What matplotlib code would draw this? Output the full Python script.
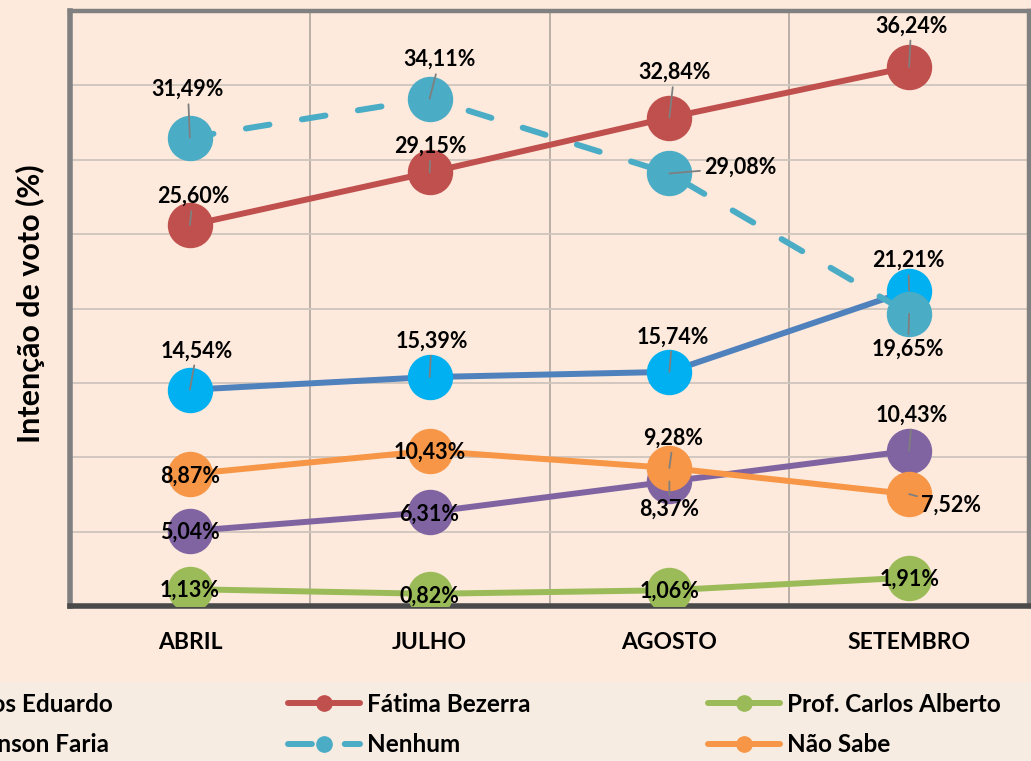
import matplotlib
matplotlib.use("Agg")
import matplotlib.pyplot as plt
from matplotlib.lines import Line2D

# ---------------- data ----------------
categories = ["ABRIL", "JULHO", "AGOSTO", "SETEMBRO"]
series_names = ["Carlos Eduardo", "Fátima Bezerra", "Prof. Carlos Alberto",
                "Robinson Faria", "Nenhum", "Não Sabe"]
carlos_eduardo = [14.54, 15.39, 15.74, 21.21]
fatima_bezerra = [25.60, 29.15, 32.84, 36.24]
prof_carlos_alberto = [1.13, 0.82, 1.06, 1.91]
robinson_faria = [5.04, 6.31, 8.37, 10.43]
nenhum = [31.49, 34.11, 29.08, 19.65]
nao_sabe = [8.87, 10.43, 9.28, 7.52]
series_values = [carlos_eduardo, fatima_bezerra, prof_carlos_alberto,
                 robinson_faria, nenhum, nao_sabe]

# ---------------- styles ----------------
line_colors = ["#4F81BD", "#C0504D", "#9BBB59", "#8064A2", "#4BACC6", "#F79646"]
marker_colors = ["#00B0F0", "#C0504D", "#9BBB59", "#8064A2", "#4BACC6", "#F79646"]
dashed = [False, False, False, False, True, False]
# label offsets (pixels) relative to each point
label_offsets = [
    [(7, 39), (2, 36), (3, 35), (-1, 30)],
    [(3, 29), (1, 26), (5, 45), (2, 41)],
    [(0, -1), (0, -2), (0, -1), (0, -2)],
    [(0, -1), (0, -2), (0, -28), (3, 36)],
    [(-2, 48), (10, 39), (71, 6), (-1, -35)],
    [(0, -2), (0, -1), (4, 30), (42, -11)],
]

FONT = "Lato"
BG = "#FDEADC"
LEG_BG = "#F7ECE2"
W, H = 1031, 761
DASH = (0, (4, 5.5))

fig = plt.figure(figsize=(W / 100, H / 100), dpi=100, facecolor=BG)
# legend band
fig.patches.append(plt.Rectangle((0, 0), 1, 1 - 682 / H, transform=fig.transFigure,
                                 facecolor=LEG_BG, edgecolor="none", zorder=0))

ax = fig.add_axes([70 / W, 1 - 606 / H, (1029 - 70) / W, (606 - 11) / H])
ax.set_facecolor(BG)
ax.set_xlim(-0.5, 3.5)
ax.set_ylim(0, 40)
ax.set_yticks(range(0, 41, 5))
ax.set_yticklabels([])
ax.set_xticks(range(len(categories)))
ax.set_xticklabels(categories, fontfamily=FONT, fontweight="bold", fontsize=16.5)
ax.set_xticks([0.5, 1.5, 2.5], minor=True)
ax.tick_params(axis="both", which="both", length=0)
ax.tick_params(axis="x", pad=19)
ax.grid(axis="y", which="major", color="#CFC5BD", lw=1.3, zorder=0)
ax.grid(axis="x", which="minor", color="#B5ABA3", lw=1.3, zorder=0)

for side in ["top", "right"]:
    ax.spines[side].set_color("#808080")
    ax.spines[side].set_linewidth(3.2)
ax.spines["left"].set_color("#808080")
ax.spines["left"].set_linewidth(4)
ax.spines["bottom"].set_color("#4A4A4A")
ax.spines["bottom"].set_linewidth(4)

x = list(range(len(categories)))
handles = []
for i, (name, vals) in enumerate(zip(series_names, series_values)):
    kw = dict(color=line_colors[i], lw=4.3, marker="o", markersize=31.7,
              markerfacecolor=marker_colors[i], markeredgecolor=marker_colors[i],
              solid_capstyle="round", dash_capstyle="round", zorder=3 + i)
    if dashed[i]:
        kw["linestyle"] = DASH
    ln, = ax.plot(x, vals, label=name, **kw)
    handles.append(ln)

# data labels
for i, vals in enumerate(series_values):
    for j, v in enumerate(vals):
        dx, dy = label_offsets[i][j]
        txt = f"{v:.2f}%".replace(".", ",")
        kw = dict(xy=(j, v), xytext=(dx, dy), textcoords="offset pixels",
                  ha="center", va="center", fontsize=15.5, fontweight="bold",
                  fontfamily=FONT, color="black", zorder=20)
        if (dx * dx + dy * dy) ** 0.5 > 20:
            kw["arrowprops"] = dict(arrowstyle="-", color="#7F7F7F", lw=1.3,
                                    shrinkA=1, shrinkB=0)
        ax.annotate(txt, **kw)

# y label
fig.text(30 / W, 1 - 304 / H, "Intenção de voto (%)", rotation=90,
         ha="center", va="center", fontsize=22, fontweight="bold", fontfamily=FONT)

# legend: three columns positioned explicitly (row-wise order as in reference)
col_x = [-131, 288, 708]
for c in range(3):
    idx = [c, c + 3]
    leg_h = []
    for k in idx:
        h = handles[k]
        lh = Line2D([], [], color=line_colors[k], lw=4.3, marker="o", markersize=11,
                    markerfacecolor=marker_colors[k], markeredgecolor=marker_colors[k],
                    solid_capstyle="round", dash_capstyle="round",
                    linestyle=DASH if dashed[k] else "-")
        leg_h.append(lh)
    fig.legend(leg_h, [series_names[k] for k in idx], loc="upper left",
               bbox_to_anchor=(col_x[c] / W, 1 - 693 / H), frameon=False,
               borderpad=0, borderaxespad=0, handlelength=2.96, handletextpad=0.29,
               labelspacing=0.72,
               prop=dict(family=FONT, weight="bold", size=17.5))

fig.savefig("out.png", dpi=100, facecolor=BG)
